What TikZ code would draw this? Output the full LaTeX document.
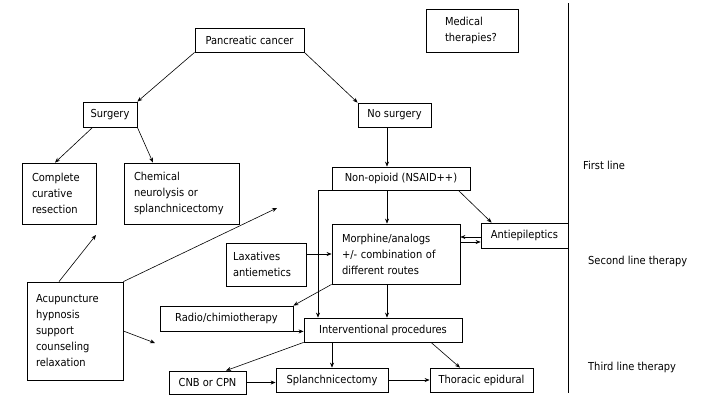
\documentclass[tikz,border=0pt]{standalone}
\usepackage{fontspec}
\setmainfont{DejaVu Sans Condensed}
\usetikzlibrary{arrows.meta,calc}
\begin{document}
\begin{tikzpicture}[x=1pt,y=-1pt, font=\fontsize{11}{16}\selectfont,
  bx/.style={draw, line width=0.8pt, inner sep=0pt, align=center},
  ml/.style={align=left, inner ysep=0pt},
  arr/.style={-{Stealth[length=5pt,width=4pt]}, line width=0.6pt},
  lbl/.style={anchor=west, inner sep=0pt}]
\useasboundingbox (0,0) rectangle (710,407);
% nodes
\node[bx, minimum width=109pt, minimum height=24pt] (pc) at (249.5,40) {Pancreatic cancer};
\node[bx, minimum width=54pt, minimum height=25pt] (surg) at (110,114.5) {Surgery};
\node[bx, ml, text width=54pt, inner xsep=10pt, minimum height=61pt] (comp) at (59,193.5) {Complete\\curative\\resection};
\node[bx, ml, text width=95pt, inner xsep=10pt, minimum height=61pt] (chem) at (181.5,193.5) {Chemical\\neurolysis or\\splanchnicectomy};
\node[bx, minimum width=73pt, minimum height=24pt] (nosurg) at (394.5,115) {No surgery};
\node[bx, ml, text width=54pt, inner xsep=19pt, minimum height=43pt] (med) at (472,30.5) {Medical\\therapies?};
\node[bx, minimum width=138pt, minimum height=23pt] (nonop) at (401,178.5) {Non-opioid (NSAID++)};
\node[bx, ml, text width=108pt, inner xsep=10pt, minimum height=60pt] (morph) at (396,254) {Morphine/analogs\\+/- combination of\\different routes};
\node[bx, minimum width=87pt, minimum height=25pt] (anti) at (524.5,235.5) {Antiepileptics};
\node[bx, ml, text width=66pt, inner xsep=7pt, minimum height=43pt] (lax) at (266,264.5) {Laxatives\\antiemetics};
\node[bx, minimum width=133pt, minimum height=25pt] (radio) at (226.5,318.5) {Radio/chimiotherapy};
\node[bx, minimum width=158pt, minimum height=24pt] (interv) at (383,330) {Interventional procedures};
\node[bx, ml, text width=78pt, inner xsep=9pt, minimum height=98pt] (acup) at (75,331) {Acupuncture\\hypnosis\\support\\counseling\\relaxation};
\node[bx, minimum width=77pt, minimum height=23pt] (cnb) at (207.5,382.5) {CNB or CPN};
\node[bx, minimum width=112pt, minimum height=24pt] (splan) at (332,380) {Splanchnicectomy};
\node[bx, minimum width=103pt, minimum height=24pt] (thor) at (481.5,380) {Thoracic epidural};
% labels
\node[lbl] (l1) at (583,165) {First line};
\node[lbl] (l2) at (588,261) {Second line therapy};
\node[lbl] (l3) at (588,367) {Third line therapy};
% divider
\coordinate (dtop) at (568,3);
\coordinate (dbot) at (568,393);
\draw[line width=0.8pt] (dtop) -- (dbot);
% helper coordinates
\coordinate (vx) at (387,0);
\coordinate (vx2) at (318,0);
\coordinate (f1) at (96,235);
\coordinate (f2) at (277,208);
\coordinate (f3) at (155,343);
% connectors
\draw[arr] (pc.south west) -- (surg.north east);
\draw[arr] (pc.south east) -- (nosurg.north west);
\draw[arr] ([xshift=10pt]surg.south west) -- ([xshift=-4pt]comp.north);
\draw[arr] (surg.south east) -- ([xshift=-28.5pt]chem.north);
\draw[arr] (nosurg.south -| vx) -- (nonop.north -| vx);
\draw[arr] (nonop.south -| vx) -- (morph.north -| vx);
\draw[arr] ([xshift=-12pt]nonop.south east) -- ([xshift=11pt]anti.north west);
\draw[arr] ([yshift=-1.5pt]anti.west) -- ([yshift=-1.5pt]anti.west -| morph.east);
\draw[arr] ([yshift=-6.5pt]anti.west -| morph.east) -- ([yshift=-6.5pt]anti.west);
\draw[arr] (morph.west -| lax.east) -- (morph.west);
\draw[arr] (morph.south west) -- (radio.north east);
\draw[arr] (nonop.south west) -| (interv.north -| vx2);
\draw[arr] ([xshift=14.5pt]radio.south) -- (radio.south -| interv.west);
\draw[arr] (morph.south -| vx) -- (interv.north -| vx);
\draw[arr] (interv.south west) -- ([xshift=18.5pt]cnb.north);
\draw[arr] (interv.south -| splan.north) -- (splan.north);
\draw[arr] (cnb.east) -- (cnb.east -| splan.west);
\draw[arr] (splan.east) -- (thor.west);
\draw[arr] ([xshift=48pt]interv.south) -- ([xshift=-21.5pt]thor.north);
\draw[arr] ([xshift=-16pt]acup.north) -- (f1);
\draw[arr] (acup.north east) -- (f2);
\draw[arr] (acup.east) -- (f3);
\end{tikzpicture}
\end{document}
